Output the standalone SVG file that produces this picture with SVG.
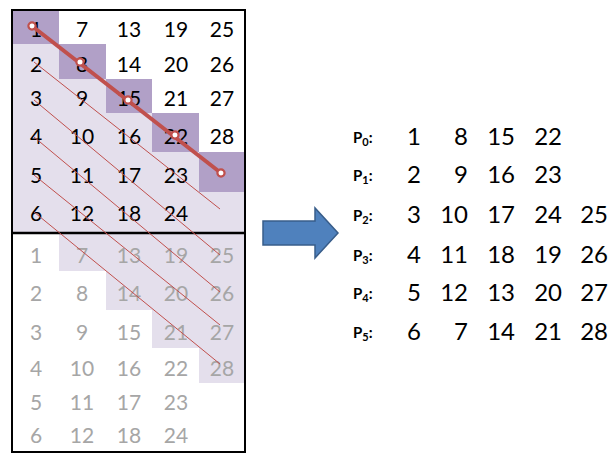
<svg xmlns="http://www.w3.org/2000/svg" width="609" height="453" viewBox="0 0 609 453">
<style>
.t{font-family:Lato,"Open Sans","Liberation Sans",sans-serif;font-size:21px;text-anchor:middle;fill:#000}
.g{fill:#A6A6A6}
.r{font-family:Lato,"Open Sans","Liberation Sans",sans-serif;font-size:24px;text-anchor:end;fill:#000}
.lbl{font-family:Lato,"Open Sans","Liberation Sans",sans-serif;font-size:15px;font-weight:bold;fill:#000}
.lp{fill:#E4DFEC}
.dp{fill:#B1A0C7}
.thin{stroke:#C0504D;stroke-width:1;fill:none}
</style>
<rect width="609" height="453" fill="#fff"/>
<g id="top-grid">
<polygon class="lp" points="12,10 59,10 59,44 106,44 106,79 152,79 152,113 199,113 199,152 245,152 245,232 12,232"/>
<rect class="dp" x="12" y="10" width="47" height="34"/>
<rect class="dp" x="59" y="44" width="47" height="35"/>
<rect class="dp" x="106" y="79" width="46" height="34"/>
<rect class="dp" x="152" y="113" width="47" height="39"/>
<rect class="dp" x="199" y="152" width="46" height="40"/>
<g class="t">
<text x="36" y="37">1</text><text x="82" y="37">7</text><text x="129" y="37">13</text><text x="176" y="37">19</text><text x="222" y="37">25</text>
<text x="36" y="72">2</text><text x="82" y="72">8</text><text x="129" y="72">14</text><text x="176" y="72">20</text><text x="222" y="72">26</text>
<text x="36" y="106">3</text><text x="82" y="106">9</text><text x="129" y="106">15</text><text x="176" y="106">21</text><text x="222" y="106">27</text>
<text x="36" y="144">4</text><text x="82" y="144">10</text><text x="129" y="144">16</text><text x="176" y="144">22</text><text x="222" y="144">28</text>
<text x="36" y="183">5</text><text x="82" y="183">11</text><text x="129" y="183">17</text><text x="176" y="183">23</text>
<text x="36" y="221">6</text><text x="82" y="221">12</text><text x="129" y="221">18</text><text x="176" y="221">24</text>
</g>
</g>
<g id="bottom-grid">
<polygon class="lp" points="59,233 245,233 245,383 199,383 199,348 152,348 152,310 106,310 106,271 59,271"/>
<g class="t g">
<text x="36" y="263">1</text><text x="82" y="263">7</text><text x="129" y="263">13</text><text x="176" y="263">19</text><text x="222" y="263">25</text>
<text x="36" y="301">2</text><text x="82" y="301">8</text><text x="129" y="301">14</text><text x="176" y="301">20</text><text x="222" y="301">26</text>
<text x="36" y="340">3</text><text x="82" y="340">9</text><text x="129" y="340">15</text><text x="176" y="340">21</text><text x="222" y="340">27</text>
<text x="36" y="376">4</text><text x="82" y="376">10</text><text x="129" y="376">16</text><text x="176" y="376">22</text><text x="222" y="376">28</text>
<text x="36" y="410">5</text><text x="82" y="410">11</text><text x="129" y="410">17</text><text x="176" y="410">23</text>
<text x="36" y="443">6</text><text x="82" y="443">12</text><text x="129" y="443">18</text><text x="176" y="443">24</text>
</g>
</g>
<g id="frame" fill="none" stroke="#000">
<rect x="12" y="10" width="233" height="442" stroke-width="2"/>
<line x1="12" y1="233" x2="245" y2="233" stroke-width="2.5"/>
</g>
<g id="connectors">
<line class="thin" x1="34" y1="62" x2="220" y2="209"/>
<line class="thin" x1="34" y1="100" x2="220" y2="255"/>
<line class="thin" x1="34" y1="137" x2="220" y2="292"/>
<line class="thin" x1="34" y1="175" x2="220" y2="325"/>
<line class="thin" x1="34" y1="212" x2="220" y2="364"/>
<line x1="32" y1="26" x2="221" y2="173" stroke="#C0504D" stroke-width="4"/>
<g fill="#fff" stroke="#C0504D" stroke-width="2.2">
<circle cx="32" cy="26" r="3.6"/>
<circle cx="80" cy="62" r="3.6"/>
<circle cx="128" cy="100" r="3.6"/>
<circle cx="175" cy="135" r="3.6"/>
<circle cx="221" cy="173" r="3.6"/>
</g>
</g>
<g id="arrow">
<polygon points="263,221 315,221 315,208 338,233 315,258 315,245 263,245" fill="#4F81BD" stroke="#385D8A" stroke-width="1.5"/>
</g>
<g id="result">
<g class="lbl">
<text x="353" y="143">P<tspan dy="3" font-size="11">0</tspan><tspan dy="-3">:</tspan></text>
<text x="353" y="181">P<tspan dy="3" font-size="11">1</tspan><tspan dy="-3">:</tspan></text>
<text x="353" y="221">P<tspan dy="3" font-size="11">2</tspan><tspan dy="-3">:</tspan></text>
<text x="353" y="261">P<tspan dy="3" font-size="11">3</tspan><tspan dy="-3">:</tspan></text>
<text x="353" y="299">P<tspan dy="3" font-size="11">4</tspan><tspan dy="-3">:</tspan></text>
<text x="353" y="338">P<tspan dy="3" font-size="11">5</tspan><tspan dy="-3">:</tspan></text>
</g>
<g class="r">
<text x="421" y="145">1</text><text x="468" y="145">8</text><text x="515" y="145">15</text><text x="562" y="145">22</text>
<text x="421" y="183">2</text><text x="468" y="183">9</text><text x="515" y="183">16</text><text x="562" y="183">23</text>
<text x="421" y="223">3</text><text x="468" y="223">10</text><text x="515" y="223">17</text><text x="562" y="223">24</text><text x="608" y="223">25</text>
<text x="421" y="263">4</text><text x="468" y="263">11</text><text x="515" y="263">18</text><text x="562" y="263">19</text><text x="608" y="263">26</text>
<text x="421" y="301">5</text><text x="468" y="301">12</text><text x="515" y="301">13</text><text x="562" y="301">20</text><text x="608" y="301">27</text>
<text x="421" y="340">6</text><text x="468" y="340">7</text><text x="515" y="340">14</text><text x="562" y="340">21</text><text x="608" y="340">28</text>
</g>
</g>
</svg>
